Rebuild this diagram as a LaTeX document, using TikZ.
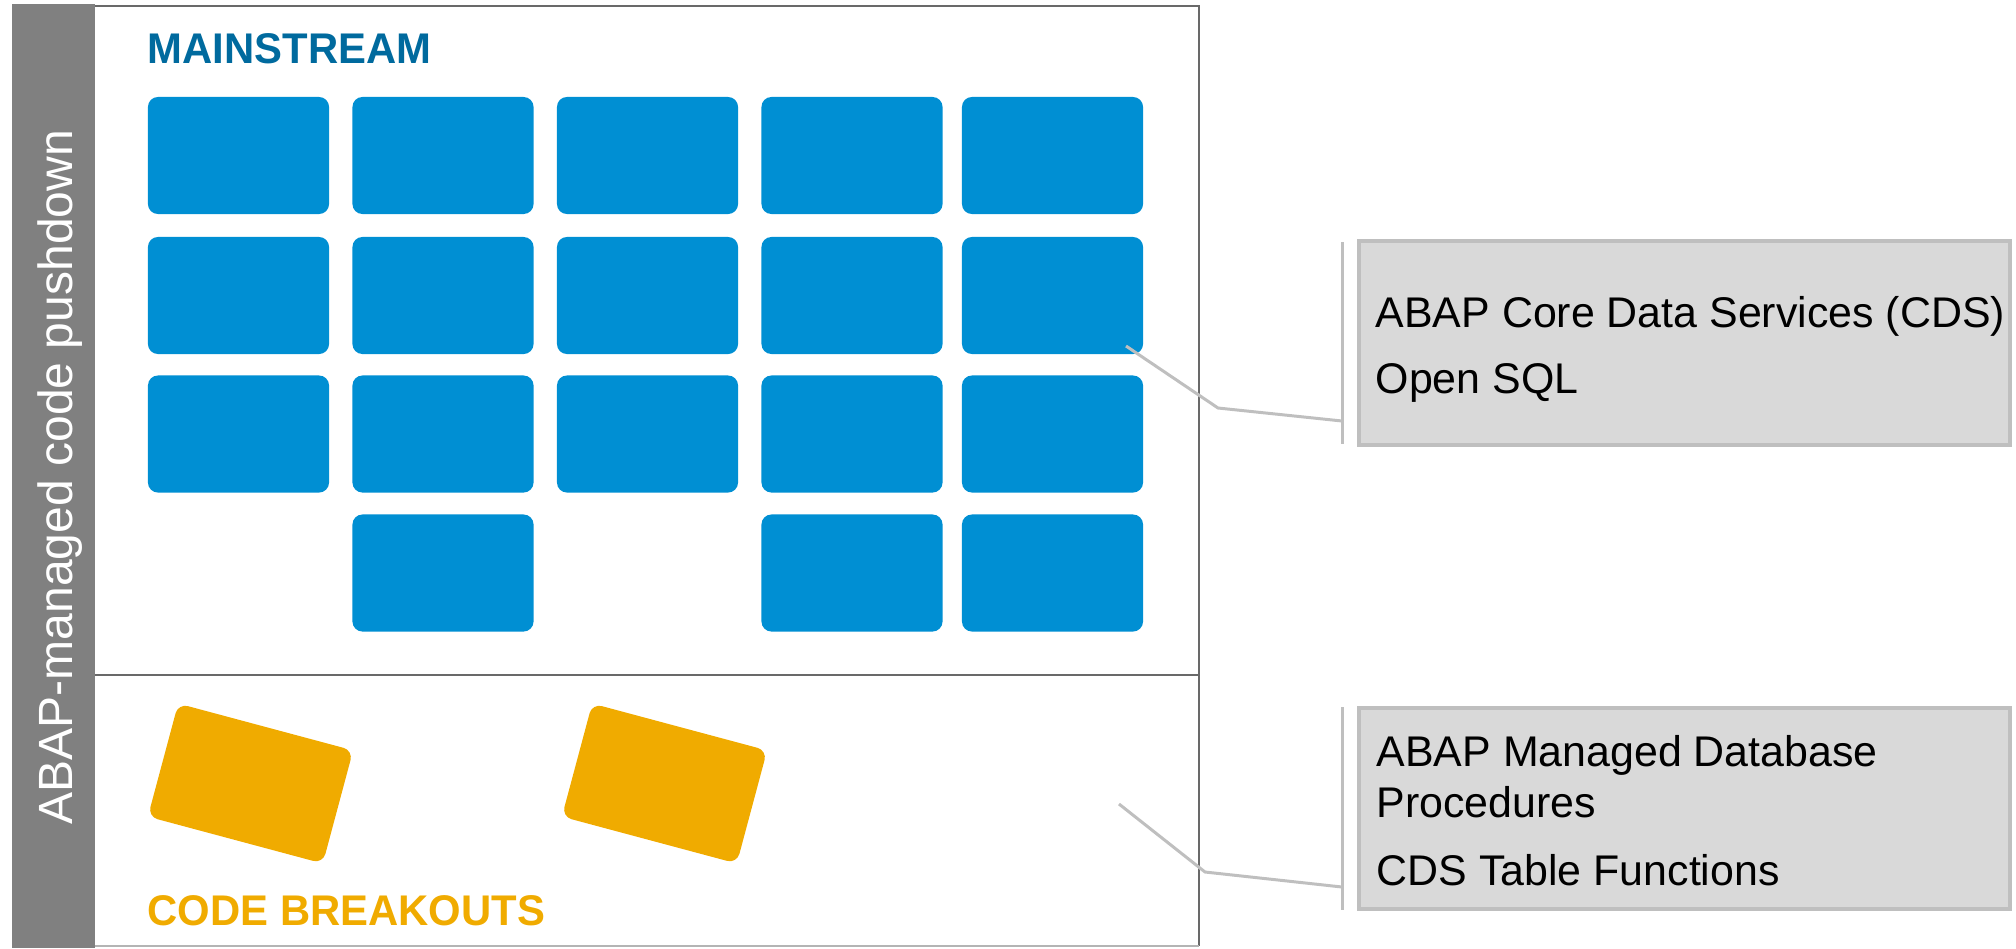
\documentclass[tikz,border=0pt]{standalone}
\usepackage{fontspec}
\setmainfont{Liberation Sans}
\definecolor{sapblue}{RGB}{0,143,211}
\definecolor{headblue}{RGB}{0,106,158}
\definecolor{sapgold}{RGB}{240,171,0}
\definecolor{barfill}{RGB}{128,128,128}
\definecolor{frameline}{RGB}{105,105,105}
\definecolor{framelight}{RGB}{180,180,180}
\definecolor{calloutfill}{RGB}{217,217,217}
\definecolor{calloutline}{RGB}{191,191,191}
\newcommand\headfont{\fontsize{12.2pt}{14pt}\selectfont\bfseries\addfontfeatures{FakeStretch=0.975}}
\newcommand\calloutfont{\fontsize{12.2pt}{14.5pt}\selectfont}
\newcommand\sidefont{\fontsize{13.66pt}{16pt}\selectfont}
\begin{document}
\begin{tikzpicture}[x=0.01cm,y=-0.01cm,
  tile/.style={fill=sapblue, draw=none, rounded corners=0.1cm, minimum width=1.81cm, minimum height=1.17cm, inner sep=0pt},
  breakout/.style={fill=sapgold, draw=none, rounded corners=0.1cm, minimum width=1.81cm, minimum height=1.17cm, inner sep=0pt, rotate=-15},
  calloutbox/.style={fill=calloutfill, draw=calloutline, line width=1.14pt, minimum width=6.51cm, inner sep=0pt},
  callouttext/.style={anchor=base west, inner sep=0pt, font=\calloutfont, text=black},
  bracket/.style={draw=calloutline, line width=0.85pt},
  connector/.style={draw=calloutline, line width=0.85pt, line join=miter},
  frame/.style={draw=frameline, line width=0.57pt}]
\useasboundingbox (0,0) rectangle (2016,948);
% side bar
\fill[barfill] (12,4) rectangle (95,948);
\node[rotate=90, anchor=base west, inner sep=0pt, text=white, font=\sidefont] (side) at (72,825) {ABAP-managed code pushdown};
% frame
\draw[frame] (95,6) -- (1199,6) -- (1199,946);
\draw[draw=framelight, line width=0.57pt] (95,946) -- (1199,946);
\draw[frame, line width=0.7pt] (95,675) -- (1199,675);
% headings
\node[anchor=base west, inner sep=0pt, font=\headfont, text=headblue] (mainstream) at (147,63) {MAINSTREAM};
\node[anchor=base west, inner sep=0pt, font=\headfont, text=sapgold] (breakouts) at (147,925) {CODE BREAKOUTS};
% blue tiles
\foreach \c/\x in {1/238.5,2/443,3/647.5,4/852,5/1052.5}{
  \foreach \r/\y in {1/155.5,2/295.5,3/434}{
    \node[tile] (b\r\c) at (\x,\y) {};
  }
}
\node[tile] (b42) at (443,573) {};
\node[tile] (b44) at (852,573) {};
\node[tile] (b45) at (1052.5,573) {};
% breakout tiles
\node[breakout] (o1) at (250.5,783.5) {};
\node[breakout] (o2) at (664.5,783.5) {};
% callout boxes
\node[calloutbox, minimum height=2.04cm] (c1) at (1684.5,343) {};
\node[calloutbox, minimum height=2.01cm] (c2) at (1684.5,808.5) {};
\node[callouttext] (t11) at (1375,327) {ABAP Core Data Services (CDS)};
\node[callouttext] (t12) at (1375,393) {Open SQL};
\node[callouttext] (t21) at (1376,766) {ABAP Managed Database};
\node[callouttext] (t22) at (1376,817) {Procedures};
\node[callouttext] (t23) at (1376,885) {CDS Table Functions};
% brackets
\coordinate (k1t) at (1342,242);
\coordinate (k1b) at (1342,444);
\coordinate (k1m) at (1342,421);
\coordinate (k2t) at (1342,707);
\coordinate (k2b) at (1342,910);
\coordinate (k2m) at (1342,887);
\draw[bracket] (k1t) -- (k1b);
\draw[bracket] (k2t) -- (k2b);
% connectors
\coordinate (s1) at (1126,346);
\coordinate (e1) at (1218,408);
\coordinate (s2) at (1119,804);
\coordinate (e2) at (1205,872);
\draw[connector] (s1) -- (e1) -- (k1m);
\draw[connector] (s2) -- (e2) -- (k2m);
\end{tikzpicture}
\end{document}
